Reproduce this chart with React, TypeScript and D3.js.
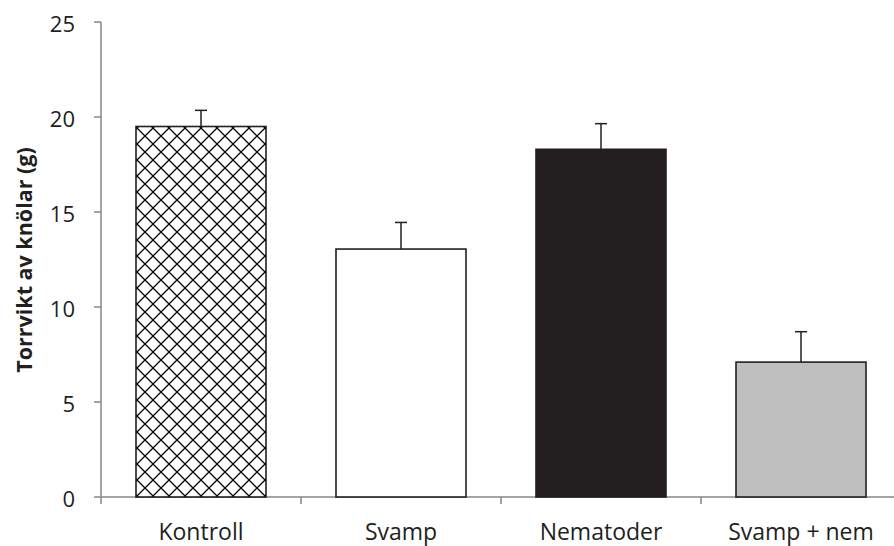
import React from "react";
import * as d3 from "d3";

const categories = ["Kontroll", "Svamp", "Nematoder", "Svamp + nem"];
const values = [19.5, 13.05, 18.3, 7.1];
const errors = [0.85, 1.4, 1.35, 1.6];
const yTicks = [0, 5, 10, 15, 20, 25];
const fills = ["url(#cross)", "#ffffff", "#231f20", "#bfbfbf"];
const yTitle = "Torrvikt av knölar (g)";

export default function App() {
  const W = 894, H = 546;
  const x0 = 101, y0 = 497, yTop = 22;
  const y = d3.scaleLinear().domain([0, 25]).range([y0, yTop]);
  const x = d3.scaleBand().domain(categories).range([x0, x0 + 800]).paddingInner(0.35).paddingOuter(0.175);
  const font = "'Open Sans', sans-serif";
  const axisColor = "#878787";
  const stroke = "#231f20";
  return (
    <svg width={W} height={H} style={{ position: "absolute", left: 0, top: 0, background: "#fff" }}>
      <defs>
        <pattern id="cross" patternUnits="userSpaceOnUse" width={16} height={16} x={137} y={0}>
          <rect width={16} height={16} fill="#fff" />
          <path d="M0,0 L16,16 M16,0 L0,16" stroke="#000" strokeWidth={1.3} />
        </pattern>
      </defs>
      {/* y axis */}
      <line x1={x0} x2={x0} y1={yTop} y2={y0} stroke={axisColor} strokeWidth={1.5} />
      {yTicks.map((t) => (
        <g key={t}>
          <line x1={x0 - 7} x2={x0} y1={y(t)} y2={y(t)} stroke={axisColor} strokeWidth={1.5} />
          <text x={75} y={y(t) + 10} textAnchor="end" fontSize={22} fill="#231f20" fontFamily={font}>{t}</text>
        </g>
      ))}
      {/* x axis */}
      <line x1={x0} x2={W} y1={y0} y2={y0} stroke={axisColor} strokeWidth={1.5} />
      {d3.range(5).map((i) => (
        <line key={i} x1={x0 + i * 200} x2={x0 + i * 200} y1={y0} y2={y0 + 7} stroke={axisColor} strokeWidth={1.5} />
      ))}
      {/* error bars */}
      {categories.map((c, i) => {
        const cx = (x(c) as number) + x.bandwidth() / 2;
        return (
          <g key={"e" + c}>
            <line x1={cx} x2={cx} y1={y(values[i])} y2={y(values[i] + errors[i])} stroke={stroke} strokeWidth={1.5} />
            <line x1={cx - 6} x2={cx + 6} y1={y(values[i] + errors[i])} y2={y(values[i] + errors[i])} stroke={stroke} strokeWidth={1.5} />
          </g>
        );
      })}
      {/* bars */}
      {categories.map((c, i) => (
        <rect key={c} x={x(c)} y={y(values[i])} width={x.bandwidth()} height={y0 - y(values[i])}
          fill={fills[i]} stroke={stroke} strokeWidth={1.6} />
      ))}
      {categories.map((c) => (
        <text key={"l" + c} x={(x(c) as number) + x.bandwidth() / 2} y={540} textAnchor="middle" fontSize={23} fill="#231f20" fontFamily={font}>{c}</text>
      ))}
      <text transform={`translate(32,260) rotate(-90)`} textAnchor="middle" fontSize={21.5} fontWeight="bold" fill="#231f20" fontFamily={font}>{yTitle}</text>
    </svg>
  );
}
